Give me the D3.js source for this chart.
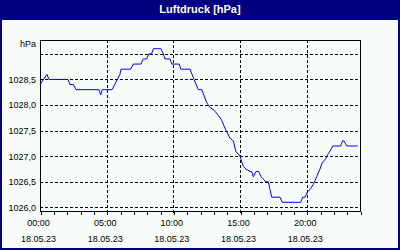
<!DOCTYPE html>
<html>
<head>
<meta charset="utf-8">
<script src="https://cdn.jsdelivr.net/npm/d3@7"></script>
<style>
  body { margin: 0; background: #f8fcf8; }
  svg { display: block; font-family: "Liberation Sans", Arial, sans-serif; }
</style>
</head>
<body>
<div id="wrapper"></div>
<script>
// data (hours since 00:00, hPa)
const hours = [0, 0.52, 0.67, 2.1, 2.25, 2.5, 2.7, 4.42, 4.55, 4.67, 5.4, 6.0, 6.07, 6.8, 7.0, 7.57, 7.75, 8.0, 8.17, 8.37,
  8.5, 9.07, 9.25, 9.37, 9.75, 9.88, 10.45, 10.55, 11.25, 11.55, 11.87, 12.13, 12.5, 12.75, 13.05, 13.37, 13.63, 13.87, 14.25, 14.5,
  14.68, 15.0, 15.25, 15.45, 15.75, 15.88, 16.0, 16.2, 16.4, 16.58, 16.75, 16.93, 17.12, 17.25, 17.38, 18.0, 18.17, 19.55, 19.7, 19.88,
  20.05, 20.25, 20.5, 20.75, 21.0, 21.13, 21.25, 21.43, 21.62, 21.75, 21.95, 22.55, 22.7, 22.8, 23.0, 23.83]
const pressure = [1028.4, 1028.6, 1028.5, 1028.5, 1028.4, 1028.4, 1028.3, 1028.3, 1028.2, 1028.3, 1028.3, 1028.6, 1028.7, 1028.7, 1028.8, 1028.8, 1028.9, 1028.9, 1029.0, 1029.0,
  1029.1, 1029.1, 1029.0, 1028.9, 1028.9, 1028.8, 1028.8, 1028.7, 1028.7, 1028.5, 1028.3, 1028.3, 1028.05, 1027.95, 1027.9, 1027.8, 1027.7, 1027.55, 1027.35, 1027.3,
  1027.1, 1027.0, 1026.8, 1026.75, 1026.7, 1026.7, 1026.6, 1026.7, 1026.7, 1026.6, 1026.55, 1026.5, 1026.5, 1026.35, 1026.2, 1026.2, 1026.1, 1026.1, 1026.2, 1026.2,
  1026.3, 1026.35, 1026.45, 1026.6, 1026.75, 1026.85, 1026.9, 1026.95, 1027.05, 1027.1, 1027.2, 1027.2, 1027.3, 1027.3, 1027.2, 1027.2]

const yTicks = [1026.0, 1026.5, 1027.0, 1027.5, 1028.0, 1028.5, 1029.0]
const xTicks = [0, 5, 10, 15, 20]
const xTimeLabels = ["00:00", "05:00", "10:00", "15:00", "20:00"]
const xDateLabels = ["18.05.23", "18.05.23", "18.05.23", "18.05.23", "18.05.23"]
const hourTicks = d3.range(0, 25)
const title = "Luftdruck [hPa]"
const unit = "hPa"

const dimensions = {
  width: 400,
  height: 250,
  margin: { top: 40, right: 40, bottom: 39, left: 40 },
}
dimensions.boundedWidth = dimensions.width - dimensions.margin.left - dimensions.margin.right
dimensions.boundedHeight = dimensions.height - dimensions.margin.top - dimensions.margin.bottom

const navy = "#000080"
const bg = "#f8fcf8"

const svg = d3.select("#wrapper").append("svg")
  .attr("width", dimensions.width)
  .attr("height", dimensions.height)

// frame + title bar
svg.append("rect").attr("width", 400).attr("height", 250).attr("fill", navy)
svg.append("rect").attr("x", 2).attr("y", 20).attr("width", 396).attr("height", 228).attr("fill", bg)
svg.append("text")
  .attr("x", 200).attr("y", 12.5)
  .attr("text-anchor", "middle")
  .attr("fill", "white")
  .style("font-weight", "bold")
  .style("font-size", "11px")
  .text(title)

const bounds = svg.append("g")
  .attr("transform", `translate(${dimensions.margin.left},${dimensions.margin.top})`)

const xScale = d3.scaleLinear().domain([0, 24]).range([0, dimensions.boundedWidth])
const yScale = d3.scaleLinear().domain([1025.93, 1029.27]).range([dimensions.boundedHeight, 0])

const de = d3.formatLocale({ decimal: ",", thousands: ".", grouping: [3], currency: ["", "€"] })
const fmt = de.format(".1f")

// grid
bounds.append("g").selectAll("line").data(yTicks).join("line")
  .attr("x1", 0).attr("x2", dimensions.boundedWidth)
  .attr("y1", d => Math.round(yScale(d)) + 0.5).attr("y2", d => Math.round(yScale(d)) + 0.5)
  .attr("stroke", "black").attr("stroke-dasharray", "3,2")
  .attr("shape-rendering", "crispEdges")
bounds.append("g").selectAll("line").data(xTicks.slice(1)).join("line")
  .attr("x1", d => Math.round(xScale(d)) + 0.5).attr("x2", d => Math.round(xScale(d)) + 0.5)
  .attr("y1", 0).attr("y2", dimensions.boundedHeight + 3)
  .attr("stroke", "black").attr("stroke-dasharray", "3,2")
  .attr("shape-rendering", "crispEdges")

// frame of the plot
bounds.append("rect")
  .attr("x", 0.5).attr("y", 0.5)
  .attr("width", dimensions.boundedWidth).attr("height", dimensions.boundedHeight)
  .attr("fill", "none").attr("stroke", "black")
  .attr("shape-rendering", "crispEdges")

// hourly ticks
const xAxis = bounds.append("g")
  .attr("transform", `translate(0.5,${dimensions.boundedHeight + 0.5})`)
  .call(d3.axisBottom(xScale).tickValues(hourTicks).tickSize(3).tickFormat(""))
xAxis.select(".domain").remove()
xAxis.selectAll("line").attr("shape-rendering", "crispEdges")

// x labels
const xLab = bounds.append("g").attr("transform", `translate(-2,${dimensions.boundedHeight})`)
  .call(d3.axisBottom(xScale).tickValues(xTicks).tickSize(0).tickFormat(""))
xLab.select(".domain").remove()
xLab.selectAll(".tick").each(function (d, i) {
  const t = d3.select(this)
  t.append("text").attr("y", 15).attr("fill", "black").attr("text-anchor", "middle")
    .style("font-size", "9px").text(xTimeLabels[i])
  t.append("text").attr("y", 31).attr("fill", "black").attr("text-anchor", "middle")
    .style("font-size", "9px").text(xDateLabels[i])
})

// y labels
const yAxis = bounds.append("g")
  .call(d3.axisLeft(yScale).tickValues(yTicks.slice(0, -1)).tickSize(0).tickPadding(4).tickFormat(fmt))
yAxis.select(".domain").remove()
yAxis.selectAll("text").style("font-size", "9px").attr("fill", "black").attr("font-family", null)
bounds.append("text")
  .attr("x", -4).attr("y", 7)
  .attr("text-anchor", "end")
  .style("font-size", "9px")
  .text(unit)

// line
const points = d3.zip(hours, pressure)
bounds.append("path")
  .datum(points)
  .attr("fill", "none")
  .attr("stroke", "#0000ff")
  .attr("stroke-width", 1)
  .attr("d", d3.line().x(d => xScale(d[0])).y(d => yScale(d[1])))
</script>
</body>
</html>
